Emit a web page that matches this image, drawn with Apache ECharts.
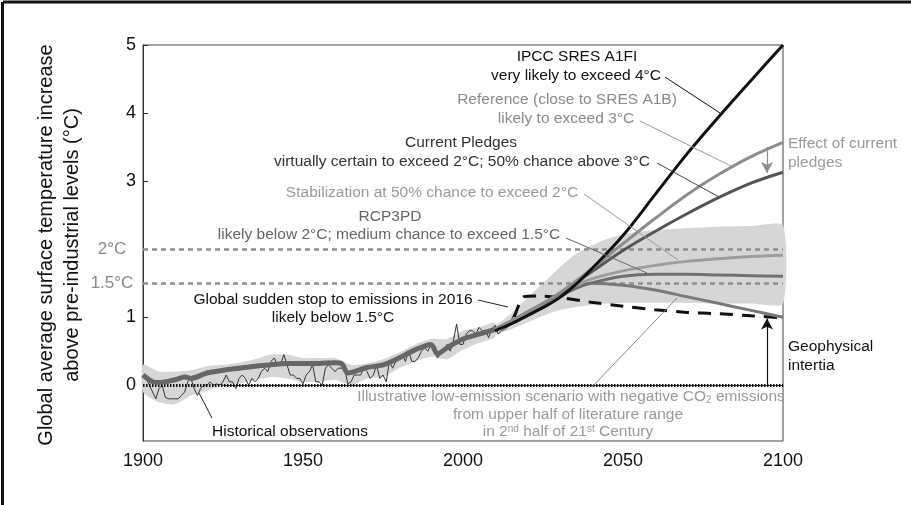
<!DOCTYPE html>
<html><head><meta charset="utf-8">
<script src="https://cdn.jsdelivr.net/npm/echarts@6/dist/echarts.min.js"></script>
<style>html,body{margin:0;padding:0;background:#fff}#c{width:911px;height:505px}</style>
</head><body><div id="c"></div>
<script>
// ---------- DATA ----------
const xTickValues = [1900, 1950, 2000, 2050, 2100];
const yTickValues = [0, 1, 2, 3, 4, 5];
const yLabelValues = [0, 1, 3, 4, 5];
const thresholdValues = [1.5, 2];
const thresholdLabels = ['1.5°C', '2°C'];

const histStartYear = 1900;
const histObs = [
  0.15, 0.10, 0.00, -0.10, -0.20, -0.05, 0.00, -0.18, -0.20, -0.20,
  -0.20, -0.20, -0.15, -0.10, 0.05, 0.10, -0.05, -0.15, -0.05, 0.00,
  0.00, 0.05, 0.00, 0.02, 0.00, 0.05, 0.15, 0.05, 0.05, -0.05,
  0.10, 0.15, 0.10, 0.00, 0.10, 0.05, 0.10, 0.20, 0.25, 0.20,
  0.35, 0.40, 0.30, 0.30, 0.45, 0.30, 0.15, 0.15, 0.10, 0.10,
  0.02, 0.15, 0.20, 0.30, 0.05, 0.05, 0.00, 0.25, 0.30, 0.25,
  0.20, 0.25, 0.25, 0.25, 0.02, 0.05, 0.15, 0.15, 0.15, 0.25,
  0.20, 0.10, 0.15, 0.30, 0.10, 0.15, 0.05, 0.35, 0.25, 0.35,
  0.40, 0.45, 0.35, 0.50, 0.35, 0.35, 0.40, 0.50, 0.55, 0.50,
  0.60, 0.55, 0.40, 0.45, 0.50, 0.60, 0.50, 0.65, 0.90, 0.60,
  0.60, 0.75, 0.80, 0.80, 0.75, 0.85, 0.80, 0.80, 0.70, 0.82,
  0.88, 0.75, 0.80, 0.82, 0.86, 0.95, 1.05
];

const histSmoothYears = [1900, 1903, 1905, 1910, 1913, 1915, 1920, 1925, 1930, 1935, 1940, 1945, 1950, 1955, 1960, 1962, 1964, 1966, 1970, 1975, 1980, 1985, 1990, 1992, 1995, 2000, 2005, 2010];
const histSmooth =      [0.15, 0.05, 0.04, 0.08, 0.12, 0.10, 0.18, 0.22, 0.25, 0.28, 0.30, 0.32, 0.32, 0.32, 0.33, 0.32, 0.18, 0.20, 0.26, 0.30, 0.40, 0.52, 0.60, 0.46, 0.55, 0.68, 0.75, 0.82];

const histBandYears = [1900, 1905, 1910, 1915, 1920, 1925, 1930, 1935, 1940, 1945, 1950, 1955, 1960, 1965, 1970, 1975, 1980, 1985, 1990, 1995, 2000, 2005, 2010];
const histBandUpper = [0.30, 0.20, 0.20, 0.22, 0.28, 0.30, 0.33, 0.38, 0.45, 0.45, 0.40, 0.40, 0.40, 0.30, 0.32, 0.38, 0.48, 0.60, 0.68, 0.68, 0.80, 0.85, 0.92];
const histBandLower = [-0.10, -0.25, -0.28, -0.15, -0.08, 0.00, 0.02, 0.08, 0.12, 0.10, 0.05, 0.05, 0.08, 0.00, 0.10, 0.12, 0.25, 0.35, 0.42, 0.38, 0.52, 0.62, 0.70];

const futBandYears = [2005, 2010, 2015, 2020, 2025, 2030, 2035, 2040, 2045, 2050, 2060, 2070, 2080, 2090, 2100];
const futBandUpper = [0.82, 0.88, 1.05, 1.28, 1.50, 1.72, 1.92, 2.05, 2.15, 2.22, 2.28, 2.31, 2.33, 2.34, 2.35];
const futBandLower = [0.70, 0.74, 0.82, 0.92, 1.02, 1.10, 1.15, 1.18, 1.20, 1.21, 1.21, 1.21, 1.20, 1.20, 1.20];

const futYears =      [2010, 2015, 2020, 2025, 2030, 2035, 2040, 2050, 2060, 2070, 2080, 2090, 2100];
const sresA1FI =      [0.80, 0.90, 1.02, 1.14, 1.28, 1.47, 1.70, 2.20, 2.80, 3.40, 3.95, 4.48, 5.00];
const referenceA1B =  [0.82, 0.94, 1.07, 1.20, 1.35, 1.52, 1.70, 2.08, 2.45, 2.80, 3.10, 3.36, 3.57];
const currentPledges =[0.82, 0.94, 1.07, 1.20, 1.34, 1.50, 1.66, 1.98, 2.26, 2.52, 2.76, 2.97, 3.13];
const stabilization = [0.82, 0.94, 1.07, 1.20, 1.33, 1.46, 1.56, 1.68, 1.76, 1.82, 1.86, 1.89, 1.91];
const rcp3pd =        [0.82, 0.94, 1.06, 1.18, 1.30, 1.42, 1.50, 1.60, 1.63, 1.63, 1.62, 1.61, 1.60];
const lowEmission =   [0.82, 0.94, 1.06, 1.18, 1.30, 1.42, 1.50, 1.47, 1.40, 1.30, 1.20, 1.10, 1.00];

const stopYears =  [2016, 2019, 2025, 2030, 2040, 2050, 2060, 2070, 2080, 2090, 2100];
const suddenStop = [1.00, 1.30, 1.31, 1.29, 1.22, 1.16, 1.11, 1.07, 1.05, 1.02, 0.99];

const pledgeArrow = {year: 2095, from: 3.50, to: 3.12};
const inertiaArrow = {year: 2095, from: 0, to: 0.98};

// ---------- BUILD ----------
const zip = (xs, ys) => xs.map((x, i) => [x, ys[i]]);
const histObsData = histObs.map((v, i) => [histStartYear + i, v]);

function bandSeries(years, lo, hi, color, z) {
  return {
    type: 'custom', z: z, silent: true, data: [[years[0], lo[0]]],
    renderItem: function (params, api) {
      const pts = [];
      for (let i = 0; i < years.length; i++) pts.push(api.coord([years[i], hi[i]]));
      for (let i = years.length - 1; i >= 0; i--) pts.push(api.coord([years[i], lo[i]]));
      return {type: 'polygon', shape: {points: pts, smooth: 0.2}, style: {fill: color}};
    }
  };
}
function curve(data, color, width, z, extra) {
  return Object.assign({
    type: 'line', data: data, symbol: 'none', smooth: 0.35, z: z, silent: true,
    lineStyle: {color: color, width: width}
  }, extra || {});
}

const FONT = '"Liberation Sans", Arial, Helvetica, sans-serif';
const AF = 15.5;
function txt(t, x, y, color, align, size, rich) {
  return {type: 'text', x: x, y: y, silent: true, z: 100,
    style: {text: t, fill: color, font: (size || AF) + 'px ' + FONT,
      align: align || 'center', verticalAlign: 'middle', rich: rich}};
}
function seg(x1, y1, x2, y2, color, w) {
  return {type: 'line', silent: true, z: 90, shape: {x1, y1, x2, y2},
    style: {stroke: color, lineWidth: w || 1}};
}
const richSub = {
  s: {fontSize: 10, verticalAlign: 'bottom', fill: '#9a9a9a', fontFamily: FONT, lineHeight: 16}
};
const richSup = {
  s: {fontSize: 10, verticalAlign: 'top', fill: '#9a9a9a', fontFamily: FONT, lineHeight: 16}
};

const chart = echarts.init(document.getElementById('c'), null, {renderer: 'canvas'});
chart.setOption({
  animation: false,
  backgroundColor: '#fff',
  grid: {left: 143, right: 128, top: 45, bottom: 64, show: true, borderColor: '#444', borderWidth: 1},
  xAxis: {
    type: 'value', min: 1900, max: 2100, interval: 50,
    axisLine: {show: true, lineStyle: {color: '#333'}},
    axisTick: {show: false}, splitLine: {show: false},
    axisLabel: {fontSize: 18, color: '#111', fontFamily: FONT, margin: 11,
      customValues: xTickValues, formatter: v => String(v)}
  },
  yAxis: {
    type: 'value', min: -0.82, max: 5,
    axisLine: {show: true, lineStyle: {color: '#333'}},
    axisTick: {show: true, inside: true, length: 5, customValues: yTickValues, lineStyle: {color: '#333'}},
    splitLine: {show: false},
    axisLabel: {fontSize: 18, color: '#111', fontFamily: FONT, margin: 7,
      customValues: yLabelValues, formatter: v => String(v)}
  },
  series: [
    bandSeries(histBandYears, histBandLower, histBandUpper, '#d6d6d6', 1),
    bandSeries(futBandYears, futBandLower, futBandUpper, '#d6d6d6', 1),
    {
      type: 'line', data: [], silent: true, z: 3,
      markLine: {
        silent: true, symbol: 'none', animation: false,
        label: {show: false},
        data: [
          {yAxis: thresholdValues[0], lineStyle: {color: '#8e8e8e', width: 2.5, type: [5, 4]}},
          {yAxis: thresholdValues[1], lineStyle: {color: '#8e8e8e', width: 2.5, type: [5, 4]}},
          {yAxis: 0, lineStyle: {color: '#111', width: 3, type: [1.5, 1.5]}}
        ]
      }
    },
    curve(histObsData, '#333', 1, 4, {smooth: false}),
    curve(zip(histSmoothYears, histSmooth), '#666', 5, 5, {smooth: 0.3}),
    curve(zip(stopYears, suddenStop), '#111', 3, 6, {smooth: 0.2, lineStyle: {color: '#111', width: 3, type: [13, 9]}}),
    curve(zip(futYears, lowEmission), '#7a7a7a', 3, 7),
    curve(zip(futYears, rcp3pd), '#6f6f6f', 3, 7),
    curve(zip(futYears, stabilization), '#9d9d9d', 3, 7),
    curve(zip(futYears, currentPledges), '#555', 3, 8),
    curve(zip(futYears, referenceA1B), '#8d8d8d', 3, 8),
    curve(zip(futYears, sresA1FI), '#111', 3, 9),
    {
      type: 'line', data: [], silent: true, z: 10,
      markLine: {
        silent: true, animation: false, symbol: ['none', 'arrow'], symbolSize: [9, 11],
        label: {show: false},
        data: [
          [{coord: [pledgeArrow.year, pledgeArrow.from], lineStyle: {color: '#8d8d8d', width: 1.2, type: 'solid'}},
           {coord: [pledgeArrow.year, pledgeArrow.to]}],
          [{coord: [inertiaArrow.year, inertiaArrow.from], lineStyle: {color: '#111', width: 1.2, type: 'solid'}},
           {coord: [inertiaArrow.year, inertiaArrow.to]}]
        ]
      }
    }
  ],
  graphic: [
    // outer frame (top / left)
    seg(3, 2, 911, 2, '#111', 3),
    seg(2.5, 2, 2.5, 505, '#111', 3),
    // y axis title
    {type: 'text', x: 59, y: 245, rotation: Math.PI / 2, silent: true,
      style: {text: 'Global average surface temperature increase\nabove pre-industrial levels (°C)',
        fill: '#111', font: '20px ' + FONT, align: 'center', verticalAlign: 'middle', lineHeight: 26}},
    // threshold labels
    txt(thresholdLabels[1], 112, 249, '#8a8a8a', 'center', 17),
    txt(thresholdLabels[0], 112, 283, '#8a8a8a', 'center', 17),
    // annotations
    txt('IPCC SRES A1FI', 577, 57, '#111'),
    txt('very likely to exceed 4°C', 576, 76, '#111'),
    txt('Reference (close to SRES A1B)', 567, 100, '#8a8a8a'),
    txt('likely to exceed 3°C', 566, 119, '#8a8a8a'),
    txt('Current Pledges', 461, 143, '#333'),
    txt('virtually certain to exceed 2°C; 50% chance above 3°C', 462, 162, '#333'),
    txt('Stabilization at 50% chance to exceed 2°C', 432, 193, '#9a9a9a'),
    txt('RCP3PD', 390, 217, '#666'),
    txt('likely below 2°C; medium chance to exceed 1.5°C', 389, 235, '#666'),
    txt('Global sudden stop to emissions in 2016', 333, 300, '#111'),
    txt('likely below 1.5°C', 333, 318, '#111'),
    txt('Historical observations', 290, 432, '#111'),
    txt('Illustrative low-emission scenario with negative CO{s|2} emissions', 571, 397, '#9a9a9a', 'center', AF, richSub),
    txt('from upper half of literature range', 568, 415, '#9a9a9a'),
    txt('in 2{s|nd} half of 21{s|st} Century', 568, 432, '#9a9a9a', 'center', AF, richSup),
    txt('Effect of current', 788, 144, '#9a9a9a', 'left'),
    txt('pledges', 788, 163, '#9a9a9a', 'left'),
    txt('Geophysical', 788, 347, '#111', 'left'),
    txt('intertia', 788, 366, '#111', 'left'),
    // leader lines
    seg(665, 77, 720, 113, '#111'),
    seg(640, 121, 733, 167, '#999'),
    seg(657, 163, 719, 197, '#444'),
    seg(584, 194, 678, 260, '#999'),
    seg(566, 238, 647, 273, '#666'),
    seg(478, 300, 508, 307, '#222'),
    seg(212, 418, 199, 393, '#222'),
    seg(592, 387, 677, 298, '#888')
  ]
});
</script></body></html>
